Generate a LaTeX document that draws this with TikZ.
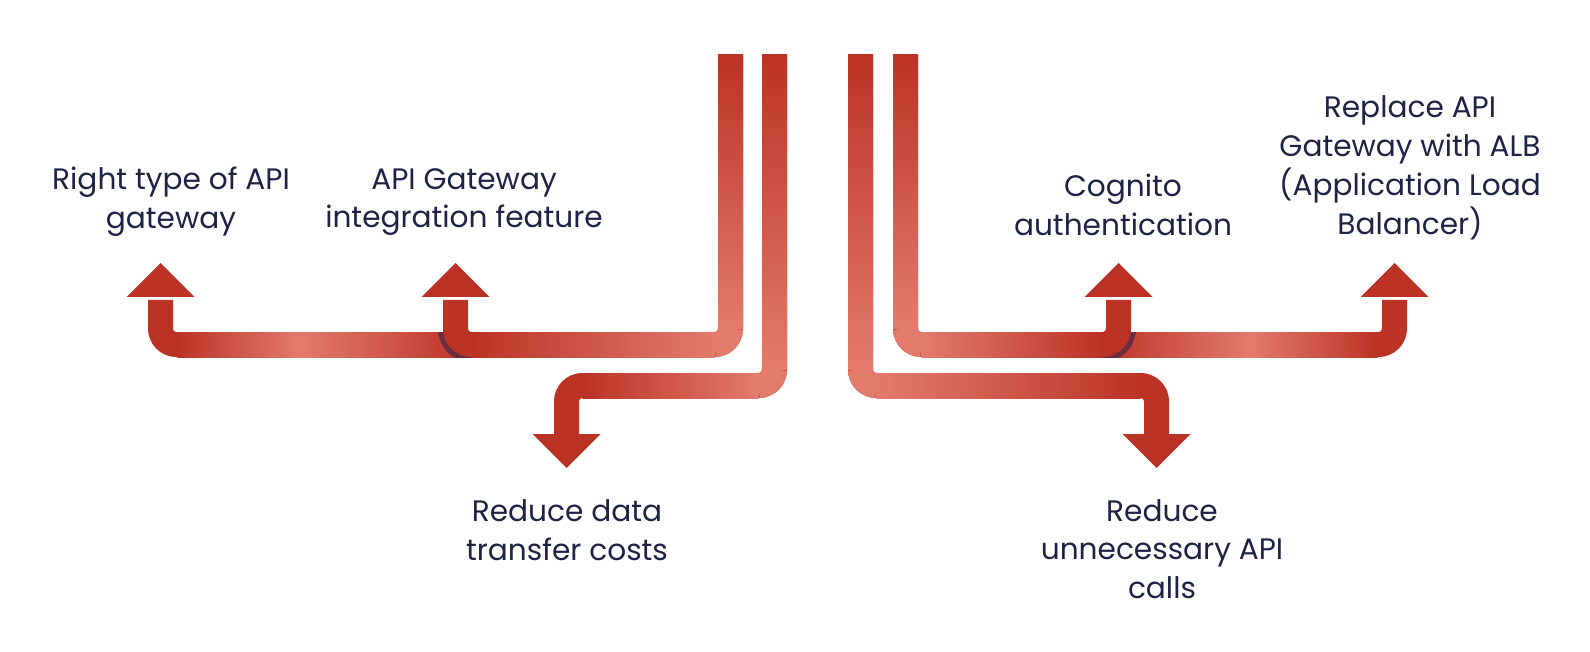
\documentclass[tikz,border=0pt]{standalone}
\usepackage{fontspec}
\setmainfont{Poppins}
\definecolor{pdark}{RGB}{187,51,37}
\definecolor{plight}{RGB}{227,123,109}
\definecolor{pshadow}{RGB}{106,45,62}
\definecolor{ptext}{RGB}{30,35,70}
\tikzset{
  lbl/.style={font=\fontsize{14.8}{19.4}\selectfont, text=ptext, align=center, inner sep=0pt},
  pipe/.style={line width=12.5pt, draw=pdark, rounded corners=8pt},
  pipelight/.style={line width=12.5pt, draw=plight, rounded corners=8pt},
  pshade/.style={line width=17.5pt, draw=pshadow, rounded corners=8pt},
  head/.style={fill=pdark},
}
\begin{document}
\begin{tikzpicture}[x=0.5pt,y=-0.5pt]
\useasboundingbox (0,0) rectangle (1590,652);

% ---------- left branch ----------
\draw[pipe] (470,344.5) -- (160.5,344.5) -- (160.5,300);
\shade[left color=pdark, right color=plight] (177.5,332) rectangle (300,357);
\shade[left color=plight, right color=pdark] (300,332) rectangle (470,357);
\fill[head] (126.5,297) -- (160.5,263) -- (194.5,297) -- cycle;

% ---------- right branch ----------
\draw[pipe] (1100,344.5) -- (1394.5,344.5) -- (1394.5,300);
\shade[left color=pdark, right color=plight] (1100,332) rectangle (1250,357);
\shade[left color=plight, right color=pdark] (1250,332) rectangle (1377.5,357);
\fill[head] (1360.5,297) -- (1394.5,263) -- (1428.5,297) -- cycle;

% ---------- shadows ----------
\begin{scope}
  \clip (150,332) rectangle (472,357);
  \draw[pshade] (520,344.5) -- (455.5,344.5) -- (455.5,300);
\end{scope}
\begin{scope}
  \clip (1100,332) rectangle (1380,357);
  \draw[pshade] (1050,344.5) -- (1118.5,344.5) -- (1118.5,300);
\end{scope}

% ---------- pipe 1 (left, up arrow) ----------
\draw[pipe] (730.5,55) -- (730.5,344.5) -- (455.5,344.5) -- (455.5,300);
\shade[top color=pdark, bottom color=plight] (718,55) rectangle (743,328.5);
\draw[pipelight] (730.5,328.5) -- (730.5,344.5) -- (714.5,344.5);
\shade[left color=pdark, right color=plight] (471.5,332) rectangle (714.5,357);
\fill[head] (421.5,297) -- (455.5,263) -- (489.5,297) -- cycle;

% ---------- pipe 2 (left, down arrow) ----------
\draw[pipe] (774.5,55) -- (774.5,385.5) -- (566.5,385.5) -- (566.5,437);
\shade[top color=pdark, bottom color=plight] (762,55) rectangle (787,369.5);
\draw[pipelight] (774.5,369.5) -- (774.5,385.5) -- (758.5,385.5);
\shade[left color=pdark, right color=plight] (582.5,373) rectangle (758.5,398);
\fill[head] (532.5,434) -- (566.5,468) -- (600.5,434) -- cycle;

% ---------- pipe 3 (right, down arrow) ----------
\draw[pipe] (860.5,55) -- (860.5,385.5) -- (1156.5,385.5) -- (1156.5,437);
\shade[top color=pdark, bottom color=plight] (848,55) rectangle (873,369.5);
\draw[pipelight] (860.5,369.5) -- (860.5,385.5) -- (876.5,385.5);
\shade[left color=plight, right color=pdark] (876.5,373) rectangle (1140.5,398);
\fill[head] (1122.5,434) -- (1156.5,468) -- (1190.5,434) -- cycle;

% ---------- pipe 4 (right, up arrow) ----------
\draw[pipe] (905.5,55) -- (905.5,344.5) -- (1118.5,344.5) -- (1118.5,300);
\shade[top color=pdark, bottom color=plight] (893,55) rectangle (918,328.5);
\draw[pipelight] (905.5,328.5) -- (905.5,344.5) -- (921.5,344.5);
\shade[left color=plight, right color=pdark] (921.5,332) rectangle (1102.5,357);
\fill[head] (1084.5,297) -- (1118.5,263) -- (1152.5,297) -- cycle;

% ---------- labels ----------
\node[lbl] (t1) at (171,202) {Right type of API\\gateway};
\node[lbl] (t2) at (464,202) {API Gateway\\integration feature};
\node[lbl] (t3) at (567,530) {Reduce data\\transfer costs};
\node[lbl] (t4) at (1123,205) {Cognito\\authentication};
\node[lbl] (t5) at (1410,168) {Replace API\\Gateway with ALB\\(Application Load\\Balancer)};
\node[lbl] (t6) at (1162,549) {Reduce\\unnecessary API\\calls};
\end{tikzpicture}
\end{document}
